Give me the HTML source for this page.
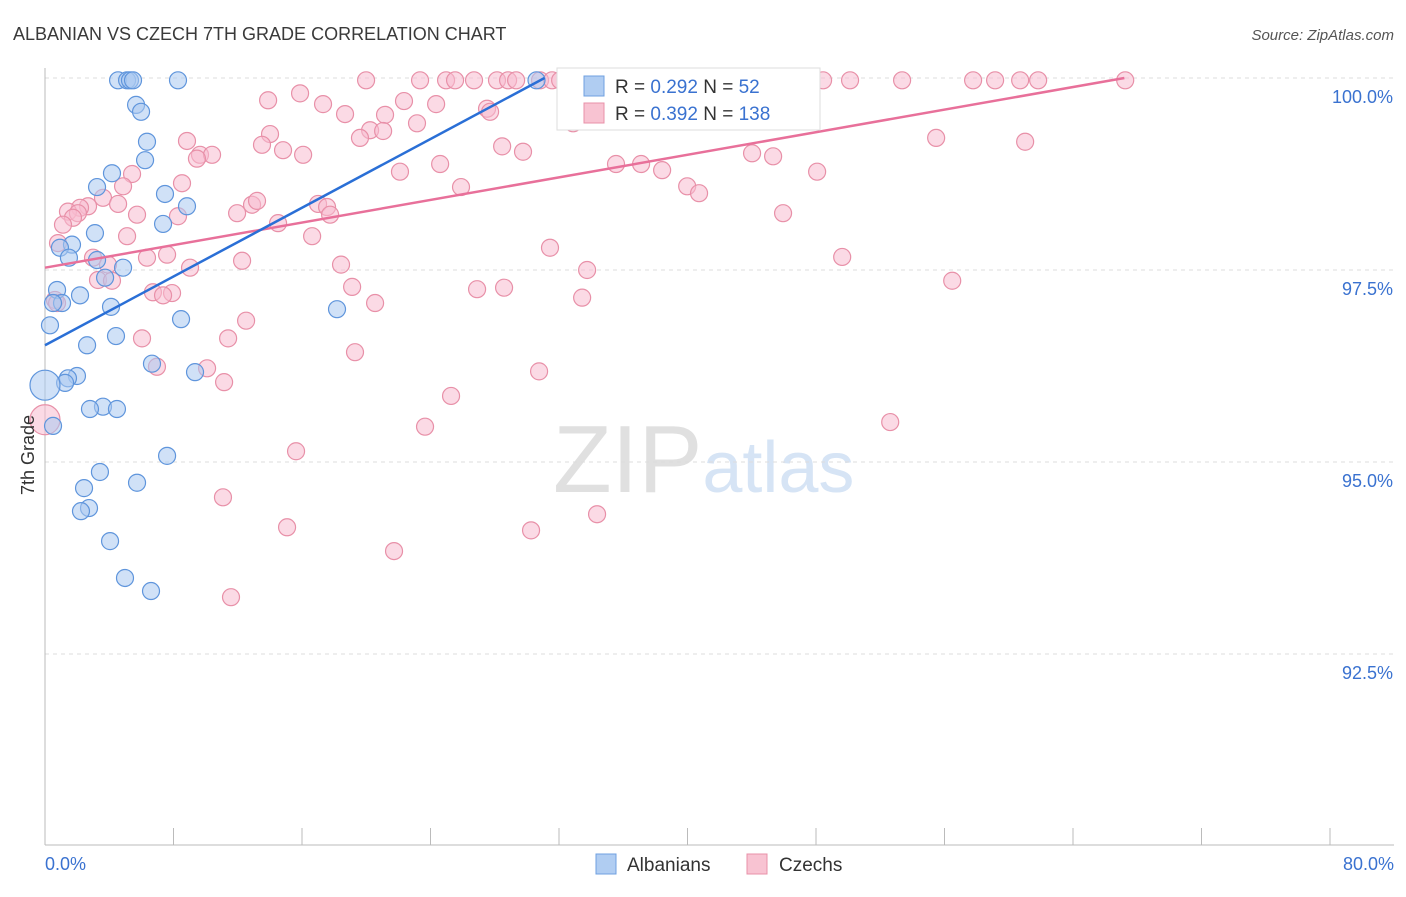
<!DOCTYPE html>
<html><head><meta charset="utf-8">
<style>
body{margin:0;background:#fff;font-family:"Liberation Sans",sans-serif;}
svg text{font-family:"Liberation Sans",sans-serif;}
</style></head>
<body>
<svg id="chart" width="1406" height="892" xmlns="http://www.w3.org/2000/svg">
<text x="13" y="40" font-size="18" fill="#3a3a3a">ALBANIAN VS CZECH 7TH GRADE CORRELATION CHART</text>
<text x="1394" y="40" font-size="15" fill="#555" font-style="italic" text-anchor="end">Source: ZipAtlas.com</text>
<text x="553" y="492" font-size="96" fill="#e0e0e0" font-family="Liberation Serif">ZIP<tspan fill="#d6e4f5" font-family="Liberation Sans" font-size="72">atlas</tspan></text>
<g id="grid"></g>
<g id="axes"></g>
<g id="marks"></g>
<text transform="translate(34,455) rotate(-90)" font-size="18" fill="#333" text-anchor="middle">7th Grade</text>
<g>
<rect x="557" y="68" width="263" height="62" fill="#fff" stroke="#ddd"/>
<rect x="584" y="76" width="20" height="20" fill="#b0cdf2" stroke="#6fa0e0"/>
<rect x="584" y="103" width="20" height="20" fill="#f8c3d2" stroke="#e890a8"/>
<text x="615" y="93" font-size="19" fill="#333">R = <tspan fill="#3a72d0">0.292</tspan>   N =  <tspan fill="#3a72d0">52</tspan></text>
<text x="615" y="120" font-size="19" fill="#333">R = <tspan fill="#3a72d0">0.392</tspan>   N = <tspan fill="#3a72d0">138</tspan></text>
</g>
<g>
<rect x="596" y="854" width="20" height="20" fill="#b0cdf2" stroke="#6fa0e0"/>
<text x="627" y="871" font-size="19" fill="#333">Albanians</text>
<rect x="747" y="854" width="20" height="20" fill="#f8c3d2" stroke="#e890a8"/>
<text x="779" y="871" font-size="19" fill="#333">Czechs</text>
</g>
</svg>
<script>
const yTicks=[100,97.5,95,92.5];
const yTickLabels=["100.0%","97.5%","95.0%","92.5%"];
const xTicks=[0,8,16,24,32,40,48,56,64,72,80];
const xEndLabels=["0.0%","80.0%"];
const albX=[4.55,5.11,5.29,5.48,8.28,30.6,5.67,5.98,6.35,6.23,4.17,3.24,7.47,8.84,7.35,3.11,1.68,0.93,1.49,3.24,4.86,3.74,0.75,2.18,1.06,0.5,4.11,8.47,0.31,18.18,4.42,2.62,6.66,9.34,1.99,1.43,1.25,0,3.61,2.8,4.48,0.5,7.6,3.42,2.43,5.73,2.74,2.24,4.05,4.98,6.6];
const albY=[99.97,99.97,99.97,99.97,99.97,99.97,99.65,99.56,99.17,98.93,98.76,98.58,98.49,98.33,98.1,97.98,97.83,97.79,97.66,97.63,97.53,97.4,97.24,97.17,97.07,97.07,97.02,96.86,96.78,96.99,96.64,96.52,96.28,96.17,96.12,96.09,96.03,96.0,95.72,95.69,95.69,95.47,95.08,94.87,94.66,94.73,94.4,94.36,93.97,93.49,93.32];
const czX=[19.99,23.35,24.97,25.53,26.71,28.14,28.83,29.33,30.82,31.57,32.07,33.06,34.06,34.99,36.18,41.1,41.6,42.03,42.53,43.59,44.4,46.7,47.63,48.44,50.12,53.36,57.78,59.15,60.71,61.83,67.25,
13.89,15.88,17.31,18.68,21.17,22.35,24.35,27.52,27.71,32.88,23.16,20.24,21.05,19.61,14.01,13.51,14.82,16.07,8.84,9.65,10.4,9.46,28.46,29.76,24.6,22.1,35.55,37.11,38.42,44.02,45.33,48.07,55.48,61.02,39.98,40.72,45.95,25.9,5.42,4.86,8.53,3.61,4.55,2.68,2.18,1.43,2.05,1.74,1.12,5.73,8.28,11.96,12.89,13.2,14.51,17.0,17.56,17.75,16.63,5.11,0.81,7.6,6.35,2.99,3.92,9.03,12.27,18.43,31.44,33.75,49.63,56.48,3.3,4.17,19.12,26.9,28.58,6.72,7.91,7.35,20.55,33.44,0.62,0.75,12.52,11.4,6.04,19.3,6.97,10.09,11.15,30.76,25.28,23.66,52.62,0,15.63,11.08,15.07,34.37,30.26,21.73,11.58];
const czY=[99.97,99.97,99.97,99.97,99.97,99.97,99.97,99.97,99.97,99.97,99.97,99.97,99.97,99.97,99.97,99.97,99.97,99.97,99.97,99.97,99.97,99.97,99.97,99.97,99.97,99.97,99.97,99.97,99.97,99.97,99.97,
99.71,99.8,99.66,99.53,99.52,99.7,99.66,99.6,99.56,99.41,99.41,99.32,99.31,99.22,99.27,99.13,99.06,99.0,99.18,99.0,99.0,98.95,99.11,99.04,98.88,98.78,98.88,98.88,98.8,99.02,98.98,98.78,99.22,99.17,98.59,98.5,98.24,98.58,98.75,98.59,98.63,98.44,98.36,98.33,98.31,98.26,98.24,98.18,98.09,98.22,98.2,98.24,98.35,98.4,98.11,98.36,98.32,98.22,97.94,97.94,97.85,97.7,97.66,97.66,97.57,97.53,97.62,97.57,97.79,97.5,97.67,97.36,97.37,97.36,97.28,97.25,97.27,97.21,97.2,97.17,97.07,97.14,97.11,97.07,96.84,96.61,96.61,96.43,96.24,96.22,96.04,96.18,95.86,95.46,95.52,95.55,95.14,94.54,94.15,94.32,94.11,93.84,93.24];
const albTrend=[[0,96.52],[31.1,100]];
const czTrend=[[0,97.53],[67.2,100]];
const NS="http://www.w3.org/2000/svg";
const X0=45,X1=1330,Y0=78,YBOT=845;
function sx(v){return X0+(v/80)*(X1-X0);}
function sy(v){return Y0+(100-v)*76.8;}
function mk(tag,attrs,parent){const e=document.createElementNS(NS,tag);for(const k in attrs)e.setAttribute(k,attrs[k]);parent.appendChild(e);return e;}
const grid=document.getElementById('grid'),axes=document.getElementById('axes'),marks=document.getElementById('marks');
yTicks.forEach((t,i)=>{
 const l=mk('line',{x1:X0,x2:1394,y1:sy(t),y2:sy(t),stroke:'#ddd','stroke-dasharray':'4,4'},grid);
 
 
 const tx=mk('text',{x:1393,y:sy(t)+25,'font-size':18,fill:'#3a72d0','text-anchor':'end'},axes);
 tx.textContent=yTickLabels[i];
 
 
});
const ya=mk('line',{x1:X0,x2:X0,y1:68,y2:YBOT,stroke:'#bbb'},axes);


const xa=mk('line',{x1:X0,x2:1394,y1:YBOT,y2:YBOT,stroke:'#bbb'},axes);


xTicks.forEach(t=>{
 const l=mk('line',{x1:sx(t),x2:sx(t),y1:828,y2:YBOT,stroke:'#bbb'},axes);
 
 
});
const xl0=mk('text',{x:45,y:870,'font-size':18,fill:'#3a72d0'},axes);xl0.textContent=xEndLabels[0];


const xl1=mk('text',{x:1394,y:870,'font-size':18,fill:'#3a72d0','text-anchor':'end'},axes);xl1.textContent=xEndLabels[1];


function pts(xs,ys,fill,stroke,name){
 xs.forEach((x,i)=>{
  const big=(x===0);
  const c=mk('circle',{cx:sx(x),cy:sy(ys[i]),r:big?15:8.5,fill:fill,'fill-opacity':0.55,stroke:stroke,'stroke-width':1.2},marks);
  
  
 });
}
pts(czX,czY,'#f8bcd0','#e890a8','czech-point');
pts(albX,albY,'#a9c8f0','#5f95dc','albanian-point');
const t1=mk('line',{x1:sx(czTrend[0][0]),y1:sy(czTrend[0][1]),x2:sx(czTrend[1][0]),y2:sy(czTrend[1][1]),stroke:'#e8709a','stroke-width':2.5},marks);


const t2=mk('line',{x1:sx(albTrend[0][0]),y1:sy(albTrend[0][1]),x2:sx(albTrend[1][0]),y2:sy(albTrend[1][1]),stroke:'#2a6fd6','stroke-width':2.5},marks);


</script>
</body></html>
